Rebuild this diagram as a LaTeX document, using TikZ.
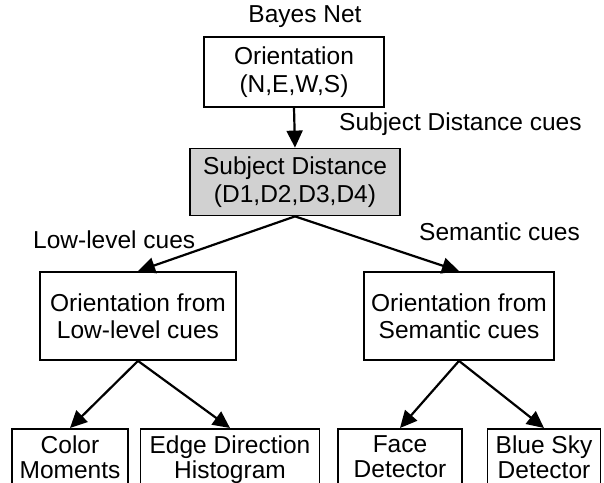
\documentclass[tikz,border=0pt]{standalone}
\usepackage{fontspec}
\setmainfont{Liberation Sans}
\usetikzlibrary{arrows.meta}
\tikzset{
  box/.style={draw=black, line width=1.8pt, inner sep=0pt, align=center, font=\fontsize{24.5}{27.5}\selectfont},
  shadebox/.style={box, fill=black!18},
  leafbox/.style={draw=black, line width=1.8pt, anchor=north, inner xsep=0pt, inner ysep=7pt, text depth=14pt, align=center, font=\fontsize{24.5}{25}\selectfont},
  lbl/.style={inner sep=0pt, font=\fontsize{24.5}{27.5}\selectfont},
  conn/.style={line width=2.2pt, -{Triangle[length=17pt,width=16pt]}},
}
\begin{document}
\begin{tikzpicture}[x=1pt,y=-1pt]
\useasboundingbox (0,0) rectangle (604,482);
\clip (0,0) rectangle (604,482);
\node[lbl] (bayes) at (305,17) {Bayes Net};
\node[box, minimum width=180pt, minimum height=70pt] (orient) at (294,72) {Orientation\\(N,E,W,S)};
\node[shadebox, minimum width=210pt, minimum height=67pt] (sd) at (295,182) {Subject Distance\\(D1,D2,D3,D4)};
\node[lbl, anchor=west] (sdcues) at (339,124) {Subject Distance cues};
\node[box, minimum width=196pt, minimum height=88pt] (low) at (138,316) {Orientation from\\Low-level cues};
\node[box, minimum width=190pt, minimum height=88pt] (sem) at (459,316) {Orientation from\\Semantic cues};
\node[lbl, anchor=west] (lowcues) at (33,240) {Low-level cues};
\node[lbl, anchor=west] (semcues) at (419,232) {Semantic cues};
\node[leafbox, minimum width=116pt] (cm) at (70,428) {Color\\Moments};
\node[leafbox, minimum width=179pt] (edh) at (230,428) {Edge Direction\\Histogram};
\node[leafbox, minimum width=124pt] (face) at (400,428) {Face\\Detector};
\node[leafbox, minimum width=113pt] (sky) at (544,428) {Blue Sky\\Detector};
\draw[conn] (orient.south) -- (sd.north);
\draw[conn] (sd.south) -- (low.north);
\draw[conn] (sd.south) -- (sem.north);
\draw[conn] (low.south) -- (cm.north);
\draw[conn] (low.south) -- (edh.north);
\draw[conn] (sem.south) -- (face.north);
\draw[conn] (sem.south) -- (sky.north);
\end{tikzpicture}
\end{document}
